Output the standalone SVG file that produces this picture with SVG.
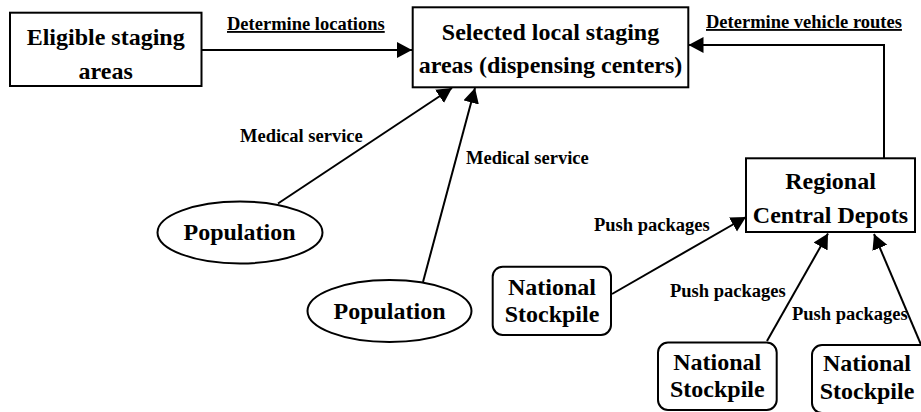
<svg xmlns="http://www.w3.org/2000/svg" width="921" height="412" viewBox="0 0 921 412">
<defs>
<marker id="ah" markerUnits="userSpaceOnUse" markerWidth="16" markerHeight="17" refX="15" refY="8" orient="auto" viewBox="0 0 16 17">
<path d="M0,0 L15,8 L0,16 z" fill="#000"/>
</marker>
<style>
.box{fill:#fff;stroke:#000;stroke-width:2}
.t{font-family:"Liberation Serif","Times New Roman",serif;font-weight:bold;font-size:24px;fill:#000;text-anchor:middle}
.l{font-family:"Liberation Serif","Times New Roman",serif;font-weight:bold;font-size:18.5px;fill:#000}
.u{text-decoration:underline}
.c{fill:none;stroke:#000;stroke-width:2;marker-end:url(#ah)}
</style>
</defs>
<rect width="921" height="412" fill="#fff"/>
<g id="connectors">
<path class="c" d="M201.5,50 L412,50"/>
<path class="c" d="M884,158 L884,45 L688.5,45"/>
<path class="c" d="M278,203.5 L452,88"/>
<path class="c" d="M423,282 L475,88"/>
<path class="c" d="M612,294 L746,217"/>
<path class="c" d="M767,341 L828,233.5"/>
<path class="c" d="M922,347 L874,234"/>
<text class="l u" x="227" y="30">Determine locations</text>
<text class="l u" x="706" y="28">Determine vehicle routes</text>
<text class="l" x="240" y="142">Medical service</text>
<text class="l" x="466" y="164">Medical service</text>
<text class="l" x="594" y="231">Push packages</text>
<text class="l" x="670" y="297">Push packages</text>
<text class="l" x="792" y="320">Push packages</text>
</g>
<g id="eligible">
<rect class="box" x="10" y="12.7" width="191.5" height="73.3"/>
<text class="t" x="105.7" y="45">Eligible staging</text>
<text class="t" x="105.7" y="78.5">areas</text>
</g>
<g id="selected">
<rect class="box" x="412.7" y="7.3" width="275.6" height="80"/>
<text class="t" x="550.5" y="39.5">Selected local staging</text>
<text class="t" x="550.5" y="73">areas (dispensing centers)</text>
</g>
<g id="regional">
<rect class="box" x="746" y="158.3" width="169" height="73.7"/>
<text class="t" x="830.5" y="189">Regional</text>
<text class="t" x="830.5" y="223">Central Depots</text>
</g>
<g id="population1">
<ellipse class="box" cx="240" cy="232.5" rx="82.5" ry="31"/>
<text class="t" x="239.5" y="240">Population</text>
</g>
<g id="population2">
<ellipse class="box" cx="389.5" cy="311" rx="82" ry="31"/>
<text class="t" x="389.5" y="318.5">Population</text>
</g>
<g id="stockpile1">
<rect class="box" x="492.7" y="266.7" width="118.3" height="68.3" rx="10"/>
<text class="t" x="552" y="294.5">National</text>
<text class="t" x="552" y="322">Stockpile</text>
</g>
<g id="stockpile2">
<rect class="box" x="658" y="342.5" width="118.7" height="67.5" rx="10"/>
<text class="t" x="717.3" y="369.5">National</text>
<text class="t" x="717.3" y="397">Stockpile</text>
</g>
<g id="stockpile3">
<rect class="box" x="812" y="345" width="118" height="68" rx="10"/>
<text class="t" x="867" y="371">National</text>
<text class="t" x="867" y="399">Stockpile</text>
</g>
</svg>
